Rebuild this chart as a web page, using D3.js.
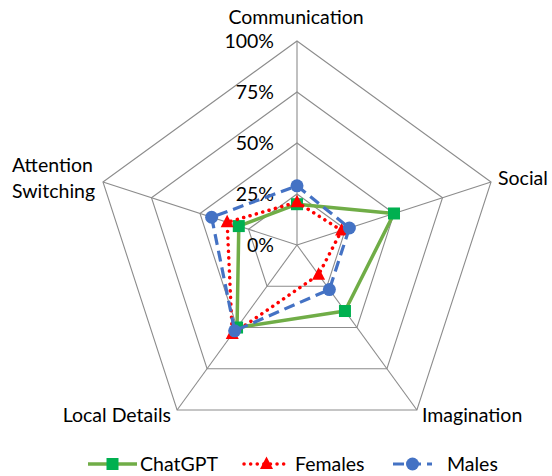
<!DOCTYPE html>
<html>
<head>
<meta charset="utf-8">
<script src="https://cdn.jsdelivr.net/npm/d3@7"></script>
<style>
  html, body { margin: 0; padding: 0; background: #fff; }
  svg { display: block; }
  text { font-family: Lato, "Open Sans", sans-serif; fill: #000; }
</style>
</head>
<body>
<svg id="chart" width="552" height="476"></svg>
<script>
const axes = ["Communication", "Social", "Imagination", "Local Details", "Attention Switching"];
const seriesNames = ["ChatGPT", "Females", "Males"];
const chatgpt = [20, 50, 40, 50, 30];
const females = [21, 23, 18, 54, 36];
const males = [29, 27, 27, 52, 44];
const tickValues = [0, 25, 50, 75, 100];
const tickLabels = ["0%", "25%", "50%", "75%", "100%"];

const svg = d3.select("#chart");
const cx = 297, cy = 245, R = 204;
const FS = 19.5;

const r = d3.scaleLinear().domain([0, 100]).range([0, R]);
const angle = d3.scaleLinear().domain([0, axes.length]).range([0, 2 * Math.PI]);
const pt = (i, v) => [Math.sin(angle(i)) * r(v), -Math.cos(angle(i)) * r(v)];

const g = svg.append("g").attr("transform", `translate(${cx},${cy})`);

// grid rings
tickValues.forEach(t => {
  if (t === 0) return;
  g.append("polygon")
    .attr("points", axes.map((a, i) => pt(i, t).join(",")).join(" "))
    .attr("fill", "none").attr("stroke", "#8c8c8c").attr("stroke-width", 1.1);
});
// spokes
axes.forEach((a, i) => {
  const p = pt(i, 100);
  g.append("line").attr("x1", 0).attr("y1", 0).attr("x2", p[0]).attr("y2", p[1])
    .attr("stroke", "#8c8c8c").attr("stroke-width", 1.1);
});

// tick labels
tickValues.forEach((t, k) => {
  g.append("text").attr("x", -23).attr("y", -r(t)).attr("dy", "0.35em")
    .attr("text-anchor", "end").attr("font-size", FS).text(tickLabels[k]);
});

// axis labels
const lbl = svg.append("g").attr("font-size", FS);
lbl.append("text").attr("x", 296).attr("y", 17).attr("dy", "0.35em").attr("text-anchor", "middle").text(axes[0]);
lbl.append("text").attr("x", 498).attr("y", 178).attr("dy", "0.35em").text(axes[1]);
lbl.append("text").attr("x", 422).attr("y", 415).attr("dy", "0.35em").text(axes[2]);
lbl.append("text").attr("x", 171).attr("y", 415).attr("dy", "0.35em").attr("text-anchor", "end").text(axes[3]);
const asWords = axes[4].split(" ");
lbl.append("text").attr("x", 12).attr("y", 165).attr("dy", "0.35em").text(asWords[0]);
lbl.append("text").attr("x", 12).attr("y", 191.5).attr("dy", "0.35em").text(asWords[1]);

const styles = [
  { color: "#70AD47", mcolor: "#00B050", width: 3.5, dash: null, cap: "butt", marker: "square" },
  { color: "#FF0000", mcolor: "#FF0000", width: 3.5, dash: "0.1,6.5", cap: "round", marker: "triangle" },
  { color: "#4472C4", mcolor: "#4472C4", width: 3.2, dash: "11,6", cap: "butt", marker: "circle" }
];
const data = [chatgpt, females, males];

const line = d3.lineRadial()
  .angle((d, i) => angle(i))
  .radius(d => r(d))
  .curve(d3.curveLinearClosed);

function drawMarker(sel, type, x, y, color) {
  if (type === "square") {
    sel.append("rect").attr("x", x - 6).attr("y", y - 6).attr("width", 12).attr("height", 12).attr("fill", color);
  } else if (type === "triangle") {
    sel.append("path").attr("d", `M${x},${y - 7.5}L${x + 6.5},${y + 5}L${x - 6.5},${y + 5}Z`).attr("fill", color);
  } else {
    sel.append("circle").attr("cx", x).attr("cy", y).attr("r", 6.5).attr("fill", color);
  }
}

data.forEach((vals, s) => {
  const st = styles[s];
  const sg = g.append("g");
  sg.append("path").attr("d", line(vals)).attr("fill", "none")
    .attr("stroke", st.color).attr("stroke-width", st.width)
    .attr("stroke-dasharray", st.dash).attr("stroke-linecap", st.cap)
    .attr("stroke-linejoin", "round");
  vals.forEach((v, i) => {
    const p = pt(i, v);
    drawMarker(sg, st.marker, p[0], p[1], st.mcolor);
  });
});

// legend
const legendItems = [
  { x1: 88, x2: 137, tx: 140 },
  { x1: 244, x2: 289, tx: 295 },
  { x1: 393, x2: 432, tx: 447 }
];
const ly = 464;
const lg = svg.append("g");
legendItems.forEach((it, s) => {
  const st = styles[s];
  lg.append("line").attr("x1", it.x1).attr("x2", it.x2).attr("y1", ly).attr("y2", ly)
    .attr("stroke", st.color).attr("stroke-width", st.width)
    .attr("stroke-dasharray", st.dash).attr("stroke-linecap", st.cap);
  drawMarker(lg, st.marker, (it.x1 + it.x2) / 2, ly, st.mcolor);
  lg.append("text").attr("x", it.tx).attr("y", ly).attr("dy", "0.35em").attr("font-size", FS).text(seriesNames[s]);
});
</script>
</body>
</html>
